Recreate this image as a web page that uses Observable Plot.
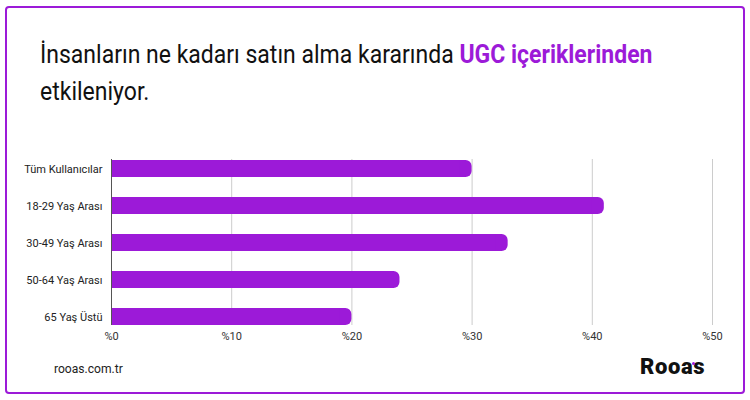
<!DOCTYPE html>
<html>
<head>
<meta charset="utf-8">
<script src="https://cdn.jsdelivr.net/npm/d3@7"></script>
<script src="https://cdn.jsdelivr.net/npm/@observablehq/plot@0.6"></script>
<style>
  html, body { margin: 0; padding: 0; background: #fff; }
  #wrap { position: relative; width: 750px; height: 400px; overflow: hidden; font-family: Roboto, sans-serif; }
  #frame { position: absolute; left: 5px; top: 6px; width: 736px; height: 384px; border: 2px solid #9c1ad8; border-radius: 4px; }
  #title { position: absolute; left: 40px; top: 36px; font-size: 25px; line-height: 37px; color: #111; white-space: nowrap; transform: scaleX(0.92); transform-origin: left top; }
  #title b { color: #9c1ad8; font-weight: 700; }
  #chart { position: absolute; left: 0; top: 140px; }
  #site { position: absolute; left: 54px; top: 361px; font-size: 13px; color: #222; transform: scaleX(0.93); transform-origin: left top; }
  #logo { position: absolute; left: 640px; top: 354px; font-size: 22px; font-weight: 900; color: #111; letter-spacing: 0.6px; }
  #dot { position: absolute; left: 692px; top: 362px; width: 3px; height: 3px; border-radius: 2px; background: #9c1ad8; }
</style>
</head>
<body>
<div id="wrap">
  <div id="frame"></div>
  <div id="title">İnsanların ne kadarı satın alma kararında <b>UGC içeriklerinden</b><br>etkileniyor.</div>
  <div id="chart"></div>
  <div id="site">rooas.com.tr</div>
  <div id="logo">Rooas</div>
  <div id="dot"></div>
</div>
<script>
const categories = ["Tüm Kullanıcılar", "18-29 Yaş Arası", "30-49 Yaş Arası", "50-64 Yaş Arası", "65 Yaş Üstü"];
const values = [30, 41, 33, 24, 20];
const tickValues = [0, 10, 20, 30, 40, 50];
const gridValues = [10, 20, 30, 40, 50];

const data = categories.map((c, i) => ({cat: c, v: values[i]}));
const purple = "#9c1ad8";

const chart = Plot.plot({
  width: 750,
  height: 210,
  marginLeft: 111,
  marginRight: 38,
  marginTop: 19,
  marginBottom: 25,
  style: {fontFamily: "Roboto, sans-serif", fontSize: "11px", color: "#333", background: "transparent"},
  x: {domain: [0, 50], axis: null, label: null},
  y: {domain: categories, paddingInner: 0.544, paddingOuter: 0, axis: null, label: null},
  marks: [
    Plot.ruleX(gridValues, {stroke: "#cccccc", strokeWidth: 1}),
    Plot.barX(data, {x1: 0, x2: "v", y: "cat", fill: purple, rx: 6}),
    Plot.barX(data, {x1: 0, x2: d => d.v - 1, y: "cat", fill: purple}),
    Plot.ruleX([0], {stroke: "#555", strokeWidth: 1}),
    Plot.axisY({tickSize: 0, tickPadding: 9, fontSize: 11, fill: "#222", label: null, style: {letterSpacing: "-0.4px"}}),
    Plot.axisX(tickValues, {tickSize: 0, tickPadding: 7, fontSize: 11, fill: "#333", label: null, tickFormat: d => "%" + d})
  ]
});
document.getElementById("chart").appendChild(chart);
</script>
</body>
</html>
